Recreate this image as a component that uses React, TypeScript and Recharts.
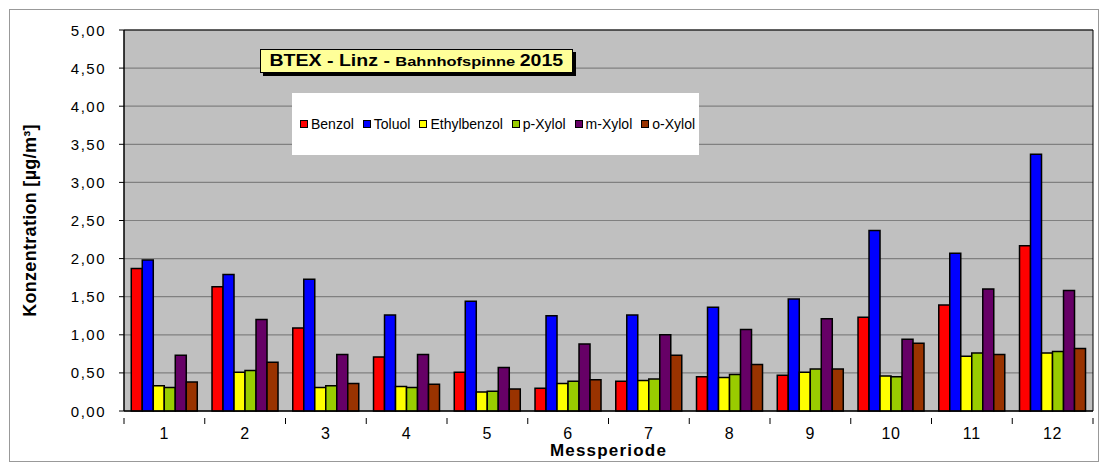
import { BarChart, Bar, XAxis, YAxis, CartesianGrid, Legend, ReferenceArea } from 'recharts';

const perioden = ['1', '2', '3', '4', '5', '6', '7', '8', '9', '10', '11', '12'];
const benzol = [1.87, 1.63, 1.09, 0.71, 0.51, 0.30, 0.39, 0.45, 0.47, 1.23, 1.39, 2.17];
const toluol = [1.98, 1.79, 1.73, 1.26, 1.44, 1.25, 1.26, 1.36, 1.47, 2.37, 2.07, 3.37];
const ethylbenzol = [0.33, 0.51, 0.31, 0.32, 0.25, 0.36, 0.40, 0.44, 0.51, 0.46, 0.72, 0.76];
const pXylol = [0.31, 0.53, 0.33, 0.31, 0.26, 0.39, 0.42, 0.48, 0.55, 0.45, 0.76, 0.78];
const mXylol = [0.73, 1.20, 0.74, 0.74, 0.57, 0.88, 1.00, 1.07, 1.21, 0.94, 1.60, 1.58];
const oXylol = [0.38, 0.64, 0.36, 0.35, 0.29, 0.41, 0.73, 0.61, 0.55, 0.89, 0.74, 0.82];
const yTicks = [0, 0.5, 1, 1.5, 2, 2.5, 3, 3.5, 4, 4.5, 5];

const series = [
    { key: 'Benzol', color: '#FF0000', values: benzol },
    { key: 'Toluol', color: '#0000FF', values: toluol },
    { key: 'Ethylbenzol', color: '#FFFF00', values: ethylbenzol },
    { key: 'p-Xylol', color: '#99CC00', values: pXylol },
    { key: 'm-Xylol', color: '#660066', values: mXylol },
    { key: 'o-Xylol', color: '#993300', values: oXylol },
];

const data = perioden.map((p, i) => {
    const row: Record<string, string | number> = { periode: p };
    series.forEach((s) => { row[s.key] = s.values[i]; });
    return row;
});

const FONT = '"Liberation Sans", Arial, sans-serif';
const W = 1092;
const H = 455;
const M = { top: 22, right: 7, left: 56, bottom: 22 };
const Y_W = 60;
const bandW = (W - M.left - Y_W - M.right) / perioden.length;

const fmt = (v: number) => v.toFixed(2).replace('.', ',');

function XTick(props: any) {
    const { x, y, payload, index } = props;
    return (
        <g>
            <line x1={x - bandW / 2} y1={y - 1} x2={x - bandW / 2} y2={y + 5} stroke="#000" />
            {index === perioden.length - 1 && (
                <line x1={x + bandW / 2} y1={y - 1} x2={x + bandW / 2} y2={y + 5} stroke="#000" />
            )}
            <text x={x} y={y + 20} textAnchor="middle" fontSize={16} letterSpacing={0.8} fill="#000" fontFamily={FONT}>{payload.value}</text>
        </g>
    );
}

function YTick(props: any) {
    const { x, y, payload } = props;
    return (
        <text x={x - 11} y={y} textAnchor="end" dominantBaseline="central" fontSize={15} letterSpacing={1.5} fill="#000" fontFamily={FONT}>
            {fmt(payload.value)}
        </text>
    );
}

function LegendBox() {
    return (
        <div style={{ width: 407, height: 62, background: '#fff', display: 'flex', alignItems: 'center', paddingLeft: 8, boxSizing: 'border-box', fontFamily: FONT, fontSize: 14, color: '#000', whiteSpace: 'nowrap' }}>
            {series.map((s) => (
                <span key={s.key} style={{ display: 'inline-flex', alignItems: 'center', marginRight: 9 }}>
                    <span style={{ display: 'inline-block', width: 6, height: 6, background: s.color, border: '1px solid #000', marginRight: 3 }} />
                    {s.key}
                </span>
            ))}
        </div>
    );
}

export default function App() {
    return (
        <div style={{ position: 'relative', width: W, height: H, fontFamily: FONT }}>
            <div style={{ position: 'absolute', left: 1, top: 1, width: W - 2, height: H - 2, border: '1px solid #999', boxSizing: 'border-box' }} />
            <BarChart width={W} height={H} data={data} margin={M} barCategoryGap="9%" barGap={0}>
                <CartesianGrid vertical={false} fill="#C0C0C0" stroke="#808080" strokeWidth={1.2} />
                <XAxis dataKey="periode" tick={<XTick />} tickLine={false} axisLine={{ stroke: '#000' }} interval={0} height={30}
                    label={{ value: 'Messperiode', position: 'insideBottom', offset: -15, fontSize: 17, letterSpacing: 1.2, fontWeight: 'bold', fill: '#000', fontFamily: FONT }} />
                <YAxis domain={[0, 5]} ticks={yTicks} width={Y_W} interval={0}
                    tick={<YTick />} tickLine={{ stroke: '#000' }} tickSize={5}
                    axisLine={{ stroke: '#000' }}
                    label={(p: any) => {
                        const vb = p.viewBox || {};
                        const cx = 22;
                        const cy = (vb.y ?? 0) + (vb.height ?? 0) / 2;
                        return (
                            <text x={cx} y={cy} transform={`rotate(-90 ${cx} ${cy})`} textAnchor="middle" dominantBaseline="central"
                                fontSize={18} letterSpacing={0.3} fontWeight="bold" fill="#000" fontFamily={FONT}>Konzentration [µg/m³]</text>
                        );
                    }} />
                <ReferenceArea y1={0} y2={5} fill="none" stroke="#000" strokeWidth={1} />
                {series.map((s) => (
                    <Bar key={s.key} dataKey={s.key} fill={s.color} stroke="#000" strokeWidth={1.5} isAnimationActive={false} />
                ))}
                <Legend verticalAlign="middle" align="center" content={<LegendBox />}
                    wrapperStyle={{ left: 284, top: 85, width: 407, height: 62 }} />
            </BarChart>
            <div style={{ position: 'absolute', left: 252, top: 41, width: 311, height: 22, background: '#FFFF99', border: '1px solid #000', boxShadow: '3px 3px 0 #000', display: 'flex', alignItems: 'center', justifyContent: 'center', fontWeight: 'bold', color: '#000', whiteSpace: 'nowrap' }}>
                <div style={{ display: 'inline-flex', alignItems: 'baseline', transform: 'scaleX(1.22)' }}>
                    <span style={{ fontSize: 16 }}>BTEX - Linz -&nbsp;</span>
                    <span style={{ fontSize: 13.5 }}>Bahnhofspinne&nbsp;</span>
                    <span style={{ fontSize: 16 }}>2015</span>
                </div>
            </div>
        </div>
    );
}
